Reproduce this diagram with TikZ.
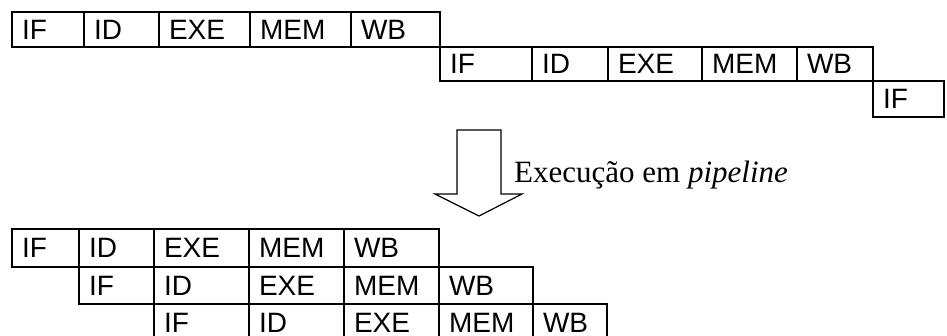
\documentclass[tikz,border=0pt]{standalone}
\usepackage{fontspec}
\setmainfont{Liberation Serif}
\setsansfont{Liberation Sans}
\usepackage{tikz}
\usetikzlibrary{positioning}
\tikzset{
    stage/.style = {draw=black, line width=2pt, anchor=north west, inner xsep=10pt, inner ysep=0pt, align=left, text width=#1, font=\sffamily\fontsize{28}{33}\selectfont, text=black},
    bigarrow/.style = {draw=black, line width=1.2pt, fill=white, line join=miter},
    notetext/.style = {anchor=base west, inner sep=0pt, font=\rmfamily\fontsize{31}{36}\selectfont, text=black}
}

\begin{document}
\begin{tikzpicture}[x=1pt,y=-1pt]
\useasboundingbox (0,0) rectangle (947,336);
% sequential
\node[stage=52pt, minimum height=35pt] at (11,11) (t1if) {IF};
\node[stage=55pt, minimum height=35pt] at (83,11) (t1id) {ID};
\node[stage=71pt, minimum height=35pt] at (158,11) (t1exe) {EXE};
\node[stage=81pt, minimum height=35pt] at (249,11) (t1mem) {MEM};
\node[stage=69pt, minimum height=35pt] at (350,11) (t1wb) {WB};
\node[stage=72pt, minimum height=34pt] at (439,46) (t2if) {IF};
\node[stage=56pt, minimum height=34pt] at (531,46) (t2id) {ID};
\node[stage=74pt, minimum height=34pt] at (607,46) (t2exe) {EXE};
\node[stage=75pt, minimum height=34pt] at (701,46) (t2mem) {MEM};
\node[stage=56pt, minimum height=34pt] at (796,46) (t2wb) {WB};
\node[stage=51pt, minimum height=36pt] at (872,80) (t3if) {IF};

\draw[bigarrow] (457,130) -- (501,130) -- (501,194) -- (522,194) -- (479,216) -- (435,194) -- (457,194) -- cycle;
\node[notetext] at (514,183) (lbl) {Execução em \textit{pipeline}};

% pipeline
\node[stage=47pt, minimum height=38pt] at (11,228) (b1if) {IF};
\node[stage=55pt, minimum height=38pt] at (78,228) (b1id) {ID};
\node[stage=75pt, minimum height=38pt] at (153,228) (b1exe) {EXE};
\node[stage=75pt, minimum height=38pt] at (248,228) (b1mem) {MEM};
\node[stage=75pt, minimum height=38pt] at (343,228) (b1wb) {WB};
\node[stage=55pt, minimum height=37pt] at (78,266) (b2if) {IF};
\node[stage=75pt, minimum height=37pt] at (153,266) (b2id) {ID};
\node[stage=75pt, minimum height=37pt] at (248,266) (b2exe) {EXE};
\node[stage=75pt, minimum height=37pt] at (343,266) (b2mem) {MEM};
\node[stage=74pt, minimum height=37pt] at (438,266) (b2wb) {WB};
\node[stage=75pt, minimum height=38pt] at (153,303) (b3if) {IF};
\node[stage=75pt, minimum height=38pt] at (248,303) (b3id) {ID};
\node[stage=75pt, minimum height=38pt] at (343,303) (b3exe) {EXE};
\node[stage=74pt, minimum height=38pt] at (438,303) (b3mem) {MEM};
\node[stage=54pt, minimum height=38pt] at (532,303) (b3wb) {WB};

\end{tikzpicture}
\end{document}
